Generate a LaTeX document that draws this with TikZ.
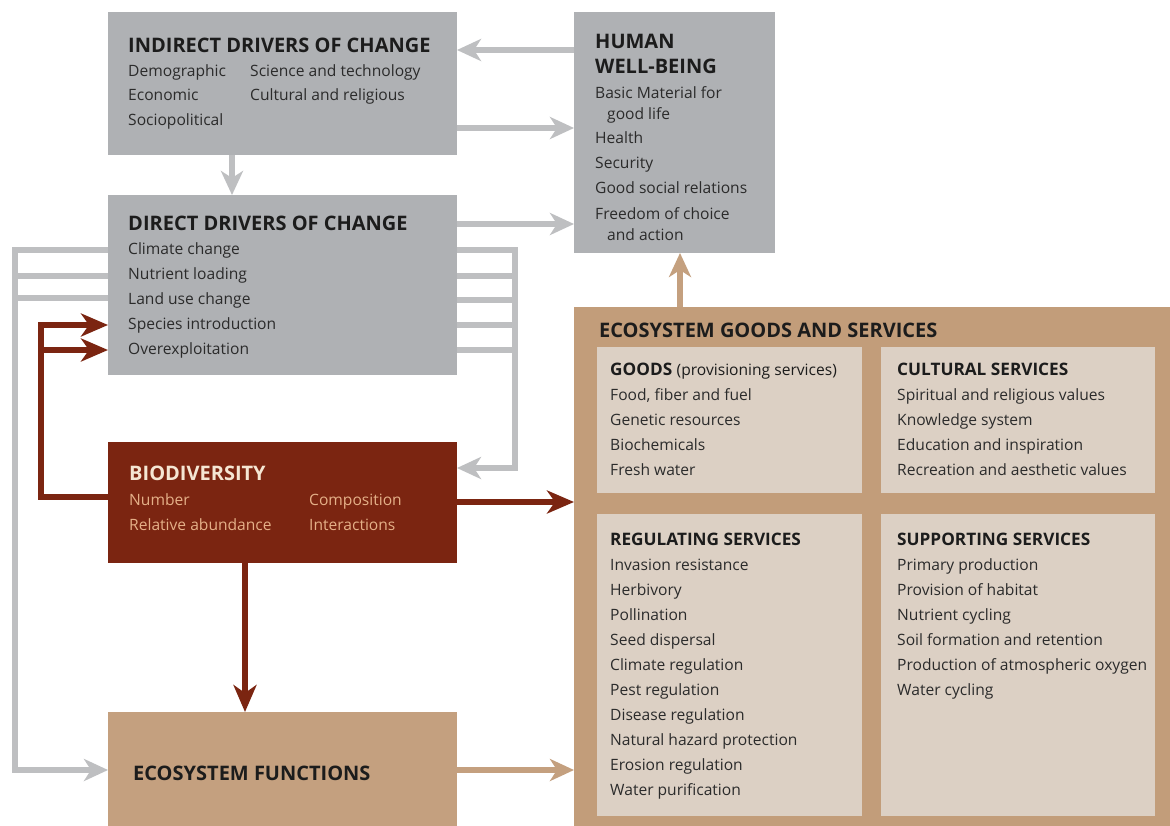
\documentclass[tikz,border=0pt]{standalone}
\usepackage{fontspec}
\setmainfont{Open Sans}
\usetikzlibrary{arrows.meta}
\definecolor{boxgrey}{HTML}{AFB1B4}
\definecolor{arrgrey}{HTML}{BEBFC1}
\definecolor{biobrown}{HTML}{7B2511}
\definecolor{tanbox}{HTML}{C4A07F}
\definecolor{egsout}{HTML}{C29D7A}
\definecolor{egsin}{HTML}{DCD0C4}
\definecolor{biotitle}{HTML}{F5E6D3}
\definecolor{bioitem}{HTML}{E5B088}
\definecolor{titlecol}{HTML}{1C1C1C}
\definecolor{itemcol}{HTML}{2B2B2B}
\begin{document}
\begin{tikzpicture}[x=1pt,y=-1pt,
  panel/.style={draw=none,inner sep=0pt,outer sep=0pt,anchor=north west},
  ttl/.style={font=\bfseries\fontsize{20}{20}\selectfont,anchor=base west,inner sep=0pt,text=titlecol},
  subttl/.style={font=\bfseries\fontsize{17.2}{17}\selectfont,anchor=base west,inner sep=0pt,text=titlecol},
  itm/.style={font=\fontsize{15.6}{15}\selectfont,anchor=base west,inner sep=0pt,text=itemcol},
  garrow/.style={draw=arrgrey,line width=6pt,-{Stealth[length=24pt,width=22pt,inset=7pt]}},
  gline/.style={draw=arrgrey,line width=6pt},
  barrow/.style={draw=biobrown,line width=6.5pt,-{Stealth[length=27pt,width=23pt,inset=8pt]}},
  tarrow/.style={draw=tanbox,line width=6pt,-{Stealth[length=24pt,width=22pt,inset=7pt]}}]
\useasboundingbox (0,0) rectangle (1170,825);
\fill[white] (0,0) rectangle (1170,825);

% boxes
\node[panel,fill=boxgrey,minimum width=349pt,minimum height=143pt] (indirect) at (108,12) {};
\node[panel,fill=boxgrey,minimum width=201pt,minimum height=241pt] (hwb) at (574,12) {};
\node[panel,fill=boxgrey,minimum width=349pt,minimum height=180pt] (direct) at (108,195) {};
\node[panel,fill=biobrown,minimum width=349pt,minimum height=121pt] (bio) at (108,442) {};
\node[panel,fill=tanbox,minimum width=349pt,minimum height=116pt] (ecof) at (108,712) {};
\node[panel,fill=egsout,minimum width=596pt,minimum height=520pt] (egs) at (574,307) {};
\node[panel,fill=egsin,minimum width=265pt,minimum height=146pt] (goods) at (597,347) {};
\node[panel,fill=egsin,minimum width=274pt,minimum height=146pt] (cult) at (881,347) {};
\node[panel,fill=egsin,minimum width=265pt,minimum height=302pt] (reg) at (597,514) {};
\node[panel,fill=egsin,minimum width=274pt,minimum height=302pt] (supp) at (881,514) {};

% indirect drivers text
\node[ttl] (t1) at (128,52) {INDIRECT DRIVERS OF CHANGE};
\node[itm] (i1) at (128,76) {Demographic};
\node[itm] (i2) at (128,100) {Economic};
\node[itm] (i3) at (128,125) {Sociopolitical};
\node[itm] (i4) at (250,76) {Science and technology};
\node[itm] (i5) at (250,100) {Cultural and religious};

% human well-being text
\node[ttl] (t2) at (595,48) {HUMAN};
\node[ttl] (t2b) at (595,73) {WELL-BEING};
\node[itm] (h1) at (595,98) {Basic Material for};
\node[itm] (h2) at (607,119) {good life};
\node[itm] (h3) at (595,143) {Health};
\node[itm] (h4) at (595,168) {Security};
\node[itm] (h5) at (595,193) {Good social relations};
\node[itm] (h6) at (595,219) {Freedom of choice};
\node[itm] (h7) at (607,240) {and action};

% direct drivers text
\node[ttl] (t3) at (128,230) {DIRECT DRIVERS OF CHANGE};
\node[itm] (d1) at (128,254) {Climate change};
\node[itm] (d2) at (128,279) {Nutrient loading};
\node[itm] (d3) at (128,304) {Land use change};
\node[itm] (d4) at (128,329) {Species introduction};
\node[itm] (d5) at (128,354) {Overexploitation};

% biodiversity text
\node[ttl,text=biotitle] (t4) at (129,480) {BIODIVERSITY};
\node[itm,text=bioitem] (b1) at (129,505) {Number};
\node[itm,text=bioitem] (b2) at (129,530) {Relative abundance};
\node[itm,text=bioitem] (b3) at (309,505) {Composition};
\node[itm,text=bioitem] (b4) at (309,530) {Interactions};

% ecosystem functions
\node[ttl] (t5) at (133,780) {ECOSYSTEM FUNCTIONS};

% ecosystem goods and services
\node[ttl] (t6) at (599,337) {ECOSYSTEM GOODS AND SERVICES};
\node[subttl] (t7) at (610,375) {GOODS \mdseries\fontsize{15.6}{15}\selectfont(provisioning services)};
\node[itm] (g1) at (610,400) {Food, fiber and fuel};
\node[itm] (g2) at (610,425) {Genetic resources};
\node[itm] (g3) at (610,450) {Biochemicals};
\node[itm] (g4) at (610,475) {Fresh water};

\node[subttl] (t8) at (897,375) {CULTURAL SERVICES};
\node[itm] (c1) at (897,400) {Spiritual and religious values};
\node[itm] (c2) at (897,425) {Knowledge system};
\node[itm] (c3) at (897,450) {Education and inspiration};
\node[itm] (c4) at (897,475) {Recreation and aesthetic values};

\node[subttl] (t9) at (610,545) {REGULATING SERVICES};
\node[itm] (r1) at (610,570) {Invasion resistance};
\node[itm] (r2) at (610,595) {Herbivory};
\node[itm] (r3) at (610,620) {Pollination};
\node[itm] (r4) at (610,645) {Seed dispersal};
\node[itm] (r5) at (610,670) {Climate regulation};
\node[itm] (r6) at (610,695) {Pest regulation};
\node[itm] (r7) at (610,720) {Disease regulation};
\node[itm] (r8) at (610,745) {Natural hazard protection};
\node[itm] (r9) at (610,770) {Erosion regulation};
\node[itm] (r10) at (610,795) {Water purification};

\node[subttl] (t10) at (897,545) {SUPPORTING SERVICES};
\node[itm] (s1) at (897,570) {Primary production};
\node[itm] (s2) at (897,595) {Provision of habitat};
\node[itm] (s3) at (897,620) {Nutrient cycling};
\node[itm] (s4) at (897,645) {Soil formation and retention};
\node[itm] (s5) at (897,670) {Production of atmospheric oxygen};
\node[itm] (s6) at (897,695) {Water cycling};

% helper coordinates
\coordinate (lt) at (15,250);
\coordinate (lb) at (15,770);
\coordinate (rt) at (515,250);
\coordinate (rb) at (515,468);
\coordinate (bl) at (41,325);
\coordinate (bb) at (41,497);

% grey connectors
\draw[garrow] (hwb.west |- 0,50) -- (indirect.east |- 0,50);
\draw[garrow] (indirect.east |- 0,128) -- (hwb.west |- 0,128);
\draw[garrow] (indirect.south -| 232,0) -- (direct.north -| 232,0);
\draw[garrow] (direct.east |- 0,224) -- (hwb.west |- 0,224);
% left bus
\draw[garrow] (direct.west |- lt) -- (lt) -- (lb) -- (ecof.west |- lb);
\draw[gline] (lt |- 0,276) -- (direct.west |- 0,276);
\draw[gline] (lt |- 0,298) -- (direct.west |- 0,298);
% right bus
\draw[garrow] (direct.east |- rt) -- (rt) -- (rb) -- (bio.east |- rb);
\draw[gline] (direct.east |- 0,276) -- (rt |- 0,276);
\draw[gline] (direct.east |- 0,300) -- (rt |- 0,300);
\draw[gline] (direct.east |- 0,325) -- (rt |- 0,325);
\draw[gline] (direct.east |- 0,350) -- (rt |- 0,350);

% brown connectors
\draw[barrow] (bio.west |- bb) -- (bb) -- (bl) -- (direct.west |- bl);
\draw[barrow] (bl |- 0,350) -- (direct.west |- 0,350);
\draw[barrow] (bio.east |- 0,502) -- (egs.west |- 0,502);
\draw[barrow] (bio.south -| 245,0) -- (ecof.north -| 245,0);

% tan connectors
\draw[tarrow] (ecof.east |- 0,770) -- (egs.west |- 0,770);
\draw[tarrow] (egs.north -| 680,0) -- (hwb.south -| 680,0);
\end{tikzpicture}
\end{document}
